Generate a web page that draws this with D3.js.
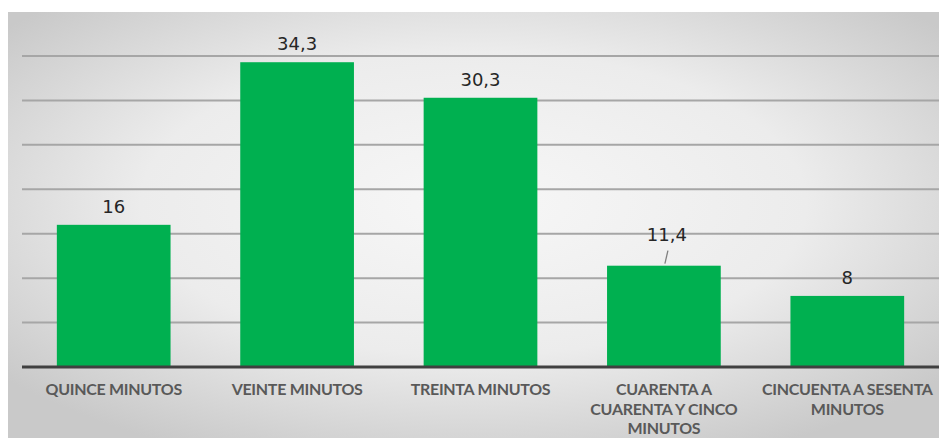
<!DOCTYPE html>
<html><head><meta charset="utf-8">
<script src="https://cdn.jsdelivr.net/npm/d3@7"></script>
<style>body{margin:0;background:#fff}svg{display:block}</style>
</head><body>
<script>
const categories = [
  ["QUINCE MINUTOS"],
  ["VEINTE MINUTOS"],
  ["TREINTA MINUTOS"],
  ["CUARENTA A","CUARENTA Y CINCO","MINUTOS"],
  ["CINCUENTA A SESENTA","MINUTOS"]
];
const values = [16, 34.3, 30.3, 11.4, 8];
const valueLabels = ["16", "34,3", "30,3", "11,4", "8"];
const gridTicks = [5, 10, 15, 20, 25, 30, 35];

const W = 939, H = 438;
const svg = d3.select("body").append("svg").attr("width", W).attr("height", H);
const defs = svg.append("defs");
const rg = defs.append("radialGradient").attr("id","bg").attr("cx","50%").attr("cy","45%").attr("r","65%");
rg.append("stop").attr("offset","0%").attr("stop-color","#f7f7f7");
rg.append("stop").attr("offset","55%").attr("stop-color","#ececec");
rg.append("stop").attr("offset","100%").attr("stop-color","#c9c9c9");
svg.append("rect").attr("x",8).attr("y",12).attr("width",W-8).attr("height",H-12).attr("fill","url(#bg)");

const x = d3.scaleBand().domain(d3.range(values.length)).range([22, 939]).paddingInner(0.38).paddingOuter(0.19);
const y = d3.scaleLinear().domain([0, 35]).range([367, 56]);

svg.append("g").selectAll("line").data(gridTicks).join("line")
  .attr("x1",22).attr("x2",W).attr("y1",d=>y(d)).attr("y2",d=>y(d))
  .attr("stroke","#a6a6a6").attr("stroke-width",2);

svg.append("g").selectAll("rect").data(values).join("rect")
  .attr("x",(d,i)=>x(i)).attr("width",x.bandwidth())
  .attr("y",d=>y(d)).attr("height",d=>y(0)-y(d)).attr("fill","#00b050");

svg.append("line").attr("x1",22).attr("x2",W).attr("y1",y(0)).attr("y2",y(0))
  .attr("stroke","#404040").attr("stroke-width",3);

// data labels
const lbl = svg.append("g").attr("font-family","'DejaVu Sans', Verdana, sans-serif").attr("font-size",18).attr("fill","#262626").attr("text-anchor","middle");
values.forEach((v,i)=>{
  const cx = x(i)+x.bandwidth()/2;
  if(i===3){
    lbl.append("text").attr("x",cx+3).attr("y",y(v)-25).text(valueLabels[i]);
    svg.append("line").attr("x1",cx+4).attr("y1",y(v)-15).attr("x2",cx+1).attr("y2",y(v)-2).attr("stroke","#7f7f7f").attr("stroke-width",1.3);
  } else {
    lbl.append("text").attr("x",cx).attr("y",y(v)-12).text(valueLabels[i]);
  }
});

// category labels
const cat = svg.append("g").attr("font-family","Lato, 'Open Sans', sans-serif").attr("font-weight","bold").attr("font-size",16).attr("fill","#595959").attr("text-anchor","middle");
categories.forEach((lines,i)=>{
  const cx = x(i)+x.bandwidth()/2;
  const t = cat.append("text").attr("x",cx).attr("y",395).attr("letter-spacing",-0.3);
  lines.forEach((s,j)=>t.append("tspan").attr("x",cx).attr("dy",j?19.5:0).text(s));
});
</script>
</body></html>
